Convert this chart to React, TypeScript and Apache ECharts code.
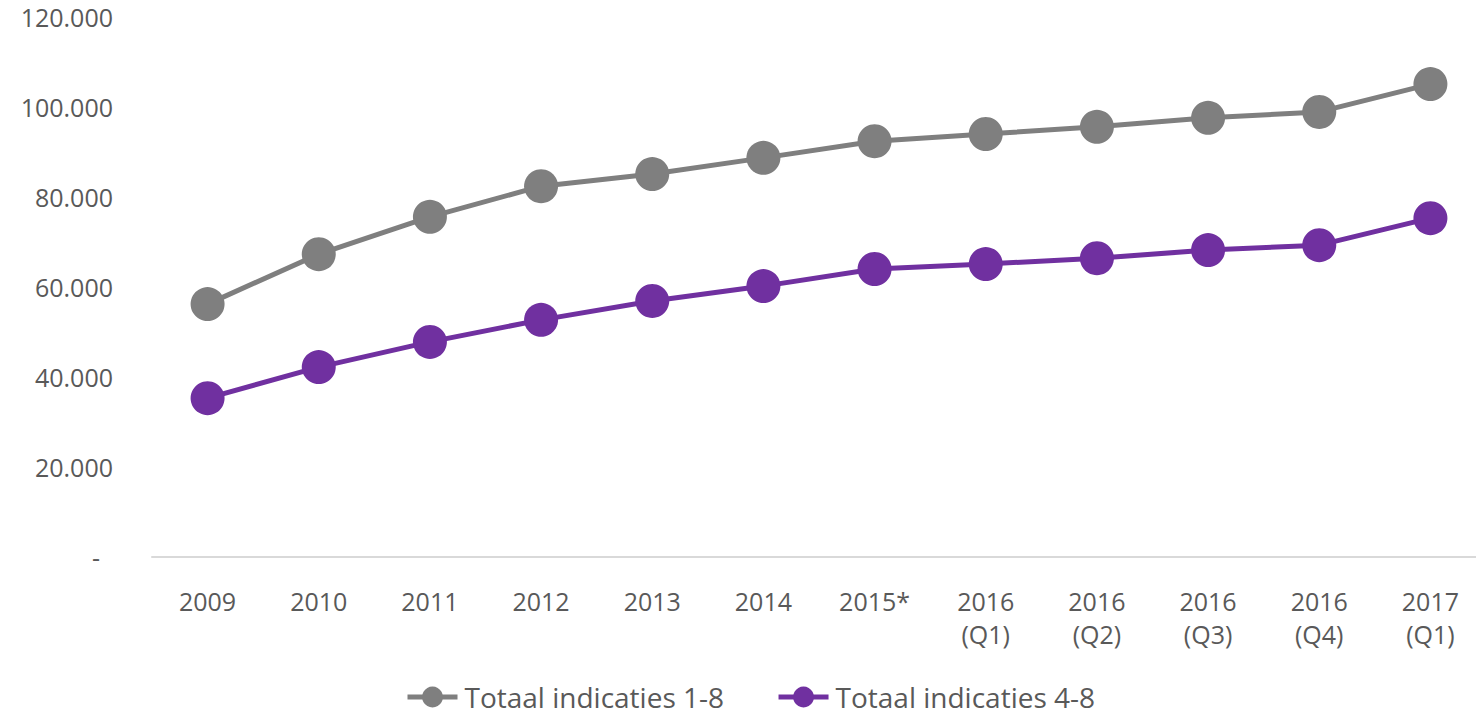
import React, { useEffect, useRef } from "react";
import * as echarts from "echarts";

const categories = ["2009", "2010", "2011", "2012", "2013", "2014", "2015*", "2016\n(Q1)", "2016\n(Q2)", "2016\n(Q3)", "2016\n(Q4)", "2017\n(Q1)"];
const totaal18 = [56200, 67300, 75600, 82400, 85100, 88700, 92400, 94000, 95600, 97600, 98900, 105100];
const totaal48 = [35300, 42200, 47800, 52700, 56900, 60200, 64000, 65100, 66400, 68200, 69300, 75300];
const seriesNames = ["Totaal indicaties 1-8", "Totaal indicaties 4-8"];
const colors = ["#7f7f7f", "#7030a0"];

const FONT = "'Open Sans', sans-serif";
const TEXT = "#595959";

function fmt(v: number): string {
  if (v === 0) return "{d|-}";
  return String(v).replace(/\B(?=(\d{3})+(?!\d))/g, ".");
}

export default function App() {
  const ref = useRef<HTMLDivElement>(null);
  useEffect(() => {
    if (!ref.current) return;
    const chart = echarts.init(ref.current, null, { renderer: "svg" });
    const mk = (name: string, data: number[], color: string) => ({
      name,
      type: "line",
      data,
      symbol: "circle",
      symbolSize: 34,
      lineStyle: { width: 5, color },
      itemStyle: { color },
    });
    chart.setOption({
      animation: false,
      textStyle: { fontFamily: FONT },
      grid: { left: 152, right: 14, top: 17, bottom: 158 },
      xAxis: {
        type: "category",
        data: categories,
        boundaryGap: true,
        axisLine: { lineStyle: { color: "#d9d9d9", width: 2 } },
        axisTick: { show: false },
        axisLabel: { color: TEXT, fontSize: 25, fontFamily: FONT, margin: 27, lineHeight: 33, interval: 0 },
      },
      yAxis: {
        type: "value",
        min: 0,
        max: 120000,
        interval: 20000,
        axisLine: { show: false },
        axisTick: { show: false },
        splitLine: { show: false },
        axisLabel: {
          color: TEXT,
          fontSize: 25,
          fontFamily: FONT,
          margin: 39,
          formatter: fmt,
          rich: { d: { color: TEXT, fontSize: 25, fontFamily: FONT, padding: [0, 13, 0, 0] } },
        },
      },
      legend: {
        top: 683,
        left: 405,
        padding: 0,
        itemWidth: 50,
        itemHeight: 26,
        itemGap: 52,
        lineStyle: { width: 5 },
        textStyle: { color: TEXT, fontSize: 28, lineHeight: 28, fontFamily: FONT, padding: [0, 0, 0, 2] },
        data: seriesNames,
      },
      series: [mk(seriesNames[0], totaal18, colors[0]), mk(seriesNames[1], totaal48, colors[1])],
    });
    return () => chart.dispose();
  }, []);
  return (
    <div style={{ position: "absolute", left: 0, top: 0, width: 1476, height: 715, overflow: "hidden" }}>
      <div ref={ref} style={{ width: 1500, height: 715 }} />
    </div>
  );
}
